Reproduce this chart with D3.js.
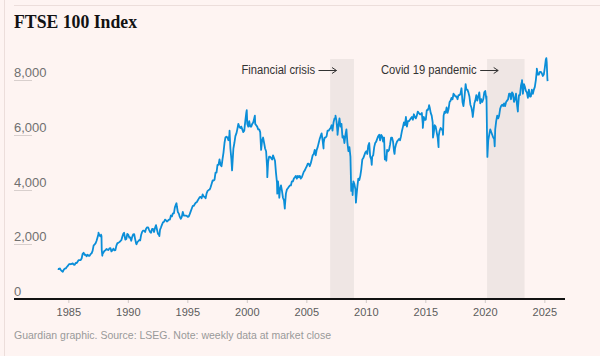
<!DOCTYPE html>
<html><head><meta charset="utf-8">
<script src="https://cdn.jsdelivr.net/npm/d3@7"></script>
<style>html,body{margin:0;padding:0;background:#fef4f2;}svg{display:block;}</style>
</head><body><svg id="c" width="600" height="356"></svg>
<script>
const title = "FTSE 100 Index";
const sourceNote = "Guardian graphic. Source: LSEG. Note: weekly data at market close";
const yTicks = [0, 2000, 4000, 6000, 8000];
const xTickYears = [1985, 1990, 1995, 2000, 2005, 2010, 2015, 2020, 2025];
const monthStart = "1984-02";
const monthlyLevels = [
/*1984*/ 1110,1090,1120,1060,1020,995,1070,1110,1120,1170,1210,
/*1985*/ 1265,1280,1270,1285,1300,1255,1250,1320,1310,1370,1420,1420,
/*1986*/ 1420,1490,1650,1690,1610,1620,1560,1620,1580,1580,1640,1670,
/*1987*/ 1760,1950,1990,2030,2120,2250,2380,2320,2290,2300,1640,1700,
/*1988*/ 1760,1780,1830,1800,1790,1850,1860,1740,1780,1840,1780,1790,
/*1989*/ 1950,2040,2050,2080,2110,2150,2270,2380,2370,2170,2190,2380,
/*1990*/ 2350,2240,2250,2130,2270,2360,2370,2180,2020,2070,2110,2150,
/*1991*/ 2140,2350,2450,2500,2500,2450,2570,2620,2620,2530,2450,2420,
/*1992*/ 2560,2560,2450,2600,2700,2530,2380,2340,2530,2620,2720,2800,
/*1993*/ 2820,2900,2880,2830,2860,2900,2900,3050,3020,3130,3130,3350,
/*1994*/ 3450,3380,3180,3120,3000,2930,3000,3180,3050,3050,3050,3040,
/*1995*/ 3000,3020,3100,3200,3300,3400,3400,3460,3520,3530,3600,3660,
/*1996*/ 3720,3730,3680,3820,3750,3730,3680,3860,3950,3980,4000,4080,
/*1997*/ 4200,4330,4330,4360,4620,4620,4900,4900,5100,4900,4850,5100,
/*1998*/ 5350,5700,5900,5930,5900,5800,6000,5500,5100,4900,5500,5700,
/*1999*/ 5950,6050,6200,6400,6300,6250,6300,6200,6100,6150,6500,6800,
/*2000*/ 6400,6300,6500,6300,6300,6400,6450,6600,6400,6350,6300,6200,
/*2001*/ 6200,6100,5450,5800,5900,5700,5500,5400,4800,5000,5200,5200,
/*2002*/ 5150,5100,5250,5150,5050,4600,4250,4300,3900,4000,4150,3950,
/*2003*/ 3700,3600,3400,3850,4000,4050,4100,4150,4150,4300,4300,4400,
/*2004*/ 4450,4500,4400,4500,4450,4500,4400,4450,4550,4650,4700,4780,
/*2005*/ 4850,4950,4950,4850,4950,5100,5250,5300,5450,5250,5450,5550,
/*2006*/ 5700,5850,5950,6050,5800,5700,5900,5900,5950,6150,6150,6200,
/*2007*/ 6250,6350,6150,6450,6600,6600,6500,6100,6350,6600,6300,6400,
/*2008*/ 5900,5950,5700,6000,6200,5700,5400,5550,5200,4100,4200,4300,
/*2009*/ 4200,4000,3700,4100,4400,4350,4500,4750,5100,5150,5250,5350,
/*2010*/ 5400,5300,5600,5700,5200,5100,5200,5250,5550,5700,5750,5850,
/*2011*/ 5950,6000,5800,6000,5950,5750,5900,5200,5200,5450,5400,5450,
/*2012*/ 5650,5900,5900,5750,5400,5500,5650,5750,5800,5850,5800,5950,
/*2013*/ 6150,6300,6450,6350,6650,6300,6500,6500,6550,6600,6650,6550,
/*2014*/ 6750,6650,6600,6700,6850,6800,6750,6750,6800,6400,6650,6550,
/*2015*/ 6550,6900,6900,7000,7000,6800,6700,6450,6050,6350,6300,6100,
/*2016*/ 5900,5950,6150,6250,6200,6150,6700,6850,6800,7000,6800,6950,
/*2017*/ 7200,7250,7350,7300,7500,7450,7400,7400,7300,7450,7450,7500,
/*2018*/ 7700,7200,7050,7350,7750,7650,7650,7550,7400,7100,7000,6800,
/*2019*/ 6850,7150,7250,7450,7250,7400,7550,7150,7300,7200,7300,7550,
/*2020*/ 7600,7300,5500,5800,6000,6200,6100,6000,5900,5850,6200,6500,
/*2021*/ 6700,6600,6700,6950,7050,7100,7050,7150,7050,7200,7250,7300,
/*2022*/ 7500,7500,7300,7550,7500,7200,7300,7500,7100,7000,7450,7450,
/*2023*/ 7800,7950,7500,7850,7750,7600,7550,7350,7650,7400,7400,7650,
/*2024*/ 7500,7650,7750,8000,8350,8200,8200,8300,8300,8250,8150,8200,
/*2025*/ 8450,8750,8650
];
const spikeDates = ["1987-07-16","1987-10-02","1987-10-23","1987-11-10","1989-09-08","1990-09-25",
  "1992-08-25","1994-02-02","1998-07-20","1998-10-05","1999-12-30","2000-09-04","2001-09-21",
  "2002-07-24","2002-09-24","2003-03-12","2006-06-13","2007-06-15","2007-08-16","2008-10-10",
  "2008-11-21","2009-03-03","2010-07-01","2011-08-08","2011-09-22","2012-06-01","2014-10-16",
  "2015-04-27","2015-08-24","2016-02-11","2016-06-27","2018-05-22","2018-12-27","2020-02-21",
  "2020-03-20","2020-10-30","2022-10-12","2023-02-16","2024-05-15","2025-03-03","2025-04-04","2025-04-11"];
const spikeValues = [2420,2350,1800,1580,2420,2000,
  2300,3500,6150,4700,6900,6700,4450,
  3850,3700,3300,5500,6700,6000,3950,
  3800,3520,4900,5100,5050,5300,6250,
  7080,5900,5550,6000,7850,6650,7400,
  5190,5580,6850,8000,8420,8800,8055,7964];
const periodLabels = ["Financial crisis", "Covid 19 pandemic"];
const periodStarts = ["2007-01-01", "2020-03-11"];
const periodEnds = ["2009-01-01", "2023-05-05"];
const labelEnds = [315, 476.7];
const labelWidths = [73.5, 95.7];

const parse = d3.timeParse("%Y-%m-%d");
const m0 = d3.timeParse("%Y-%m")(monthStart);
const series = monthlyLevels.map((v, i) => ({date: d3.timeDay.offset(d3.timeMonth.offset(m0, i), 14), value: v}))
  .concat(spikeDates.map((d, i) => ({date: parse(d), value: spikeValues[i]})))
  .sort((a, b) => a.date - b.date);

const svg = d3.select("#c");
const x = d3.scaleTime().domain([parse("1980-06-08"), parse("2026-09-27")]).range([14, 565]);
const y = d3.scaleLinear().domain([0, 8770]).range([299, 59]);

// frame lines
svg.append("line").attr("x1", 4.5).attr("x2", 4.5).attr("y1", 0).attr("y2", 356).attr("stroke", "#ecdedb").attr("stroke-width", 1);
svg.append("line").attr("x1", 14).attr("x2", 600).attr("y1", 5.5).attr("y2", 5.5).attr("stroke", "#ecdedb").attr("stroke-width", 1);

svg.append("text").attr("x", 14).attr("y", 28).text(title)
  .attr("font-family", "'Liberation Serif', 'DejaVu Serif', serif").attr("font-weight", "bold")
  .attr("font-size", 18.5).attr("fill", "#121212").attr("textLength", 123).attr("lengthAdjust", "spacingAndGlyphs");

// shaded periods
svg.selectAll("rect.period").data(periodStarts).join("rect").attr("class", "period")
  .attr("x", (d) => x(parse(d))).attr("width", (d, i) => x(parse(periodEnds[i])) - x(parse(d)))
  .attr("y", y(8770)).attr("height", y(0) - y(8770)).attr("fill", "#efe6e4");

// y gridline stubs and labels
const yg = svg.append("g");
yTicks.forEach((t) => {
  if (t !== 0) yg.append("line").attr("x1", 14).attr("x2", 32).attr("y1", Math.round(y(t)) + 0.5).attr("y2", Math.round(y(t)) + 0.5)
    .attr("stroke", "#d8cfcd").attr("stroke-width", 1);
  yg.append("text").attr("x", 14).attr("y", y(t) - 3).text(d3.format(",")(t))
    .attr("font-family", "'Liberation Sans', Arial, sans-serif").attr("font-size", 13).attr("fill", "#707070");
});

// x axis
const xAxis = d3.axisBottom(x).tickValues(xTickYears.map((yr) => new Date(yr, 0, 1)))
  .tickFormat(d3.timeFormat("%Y")).tickSize(4).tickPadding(5);
const gx = svg.append("g").attr("transform", "translate(0,299)").call(xAxis);
gx.select(".domain").remove();
gx.selectAll(".tick line").attr("stroke", "#cfc8c6");
gx.selectAll(".tick text").attr("font-family", "'Liberation Sans', Arial, sans-serif").attr("font-size", 11).attr("fill", "#5c5c5c");
svg.append("line").attr("x1", 14).attr("x2", 565).attr("y1", y(0)).attr("y2", y(0)).attr("stroke", "#121212").attr("stroke-width", 2);

// line
const line = d3.line().x((d) => x(d.date)).y((d) => y(d.value));
svg.append("path").datum(series).attr("d", line).attr("fill", "none")
  .attr("stroke", "#0b8ed8").attr("stroke-width", 1.8).attr("stroke-linejoin", "round");

// annotations
periodLabels.forEach((lab, i) => {
  svg.append("text").attr("x", labelEnds[i]).attr("y", 74).attr("text-anchor", "end").text(lab)
    .attr("font-family", "'Liberation Sans', Arial, sans-serif").attr("font-size", 12).attr("fill", "#333")
    .attr("textLength", labelWidths[i]).attr("lengthAdjust", "spacingAndGlyphs");
  const ax1 = labelEnds[i] + 3.5, ax2 = labelEnds[i] + 21.5, ay = 70.5;
  svg.append("path").attr("d", `M${ax1},${ay}H${ax2}M${ax2 - 4.5},${ay - 3}L${ax2},${ay}L${ax2 - 4.5},${ay + 3}`)
    .attr("fill", "none").attr("stroke", "#333").attr("stroke-width", 1);
});

svg.append("text").attr("x", 14).attr("y", 339).text(sourceNote)
  .attr("font-family", "'Liberation Sans', Arial, sans-serif").attr("font-size", 10.5).attr("fill", "#999")
  .attr("textLength", 317).attr("lengthAdjust", "spacingAndGlyphs");
</script></body></html>
